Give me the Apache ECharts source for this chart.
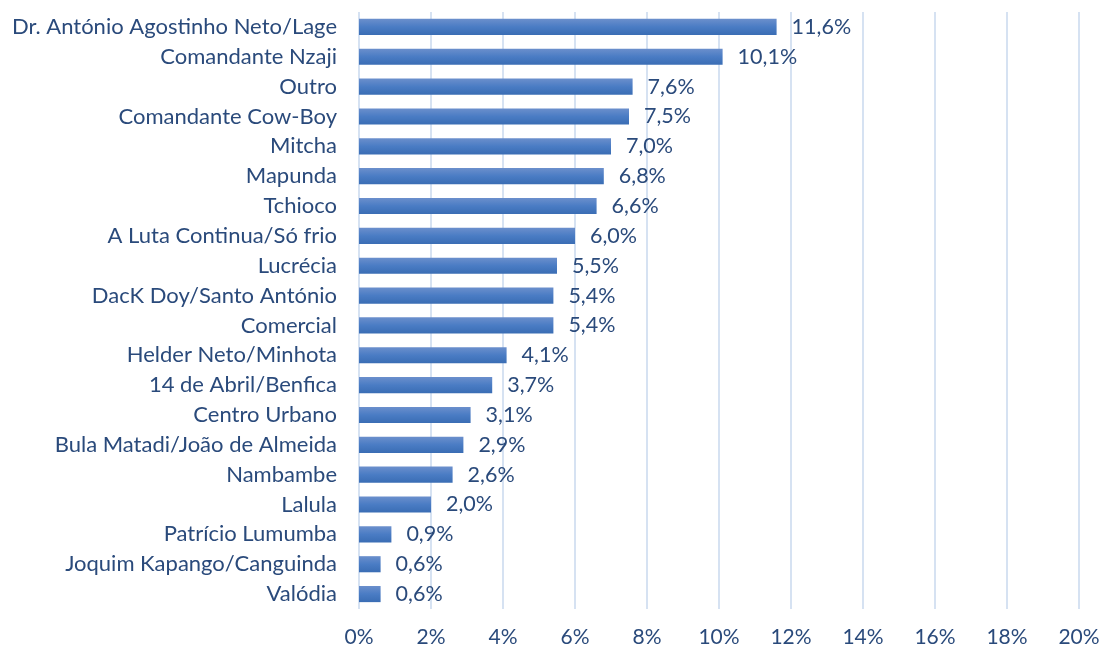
<!DOCTYPE html>
<html><head><meta charset="utf-8">
<script src="https://cdn.jsdelivr.net/npm/echarts@6/dist/echarts.min.js"></script>
<style>html,body{margin:0;padding:0;background:#fff}#c{width:1103px;height:651px}</style>
</head><body><div id="c"></div>
<script>
const categories = ["Dr. António Agostinho Neto/Lage","Comandante Nzaji","Outro","Comandante Cow-Boy","Mitcha","Mapunda","Tchioco","A Luta Continua/Só frio","Lucrécia","DacK Doy/Santo António","Comercial","Helder Neto/Minhota","14 de Abril/Benfica","Centro Urbano","Bula Matadi/João de Almeida","Nambambe","Lalula","Patrício Lumumba","Joquim Kapango/Canguinda","Valódia"];
const values = [11.6,10.1,7.6,7.5,7.0,6.8,6.6,6.0,5.5,5.4,5.4,4.1,3.7,3.1,2.9,2.6,2.0,0.9,0.6,0.6];
const xTicks = [0,2,4,6,8,10,12,14,16,18,20];

const txt = '#2a4a7b';
const font = 'Lato, "Open Sans", sans-serif';
const chart = echarts.init(document.getElementById('c'));
chart.setOption({
  animation:false,
  grid:{left:359,right:24,top:12,bottom:42,containLabel:false},
  xAxis:{type:'value',min:xTicks[0],max:xTicks[xTicks.length-1],interval:2,
    axisLine:{show:false},axisTick:{show:false},
    splitLine:{lineStyle:{color:'#d6e2f2',width:2}},
    axisLabel:{formatter:v=>v+'%',color:txt,fontSize:21,fontFamily:font,margin:18}},
  yAxis:{type:'category',data:categories.slice().reverse(),
    axisLine:{show:false},axisTick:{show:false},
    axisLabel:{color:txt,fontSize:22,fontFamily:font,margin:22}},
  series:[{type:'bar',data:values.slice().reverse(),barCategoryGap:'46%',
    itemStyle:{color:new echarts.graphic.LinearGradient(0,0,0,1,[{offset:0,color:'#6b8fcc'},{offset:0.5,color:'#4a7cc4'},{offset:1,color:'#3a6db4'}])},
    label:{show:true,position:'right',distance:15,color:txt,fontSize:21.5,fontFamily:font,
      formatter:p=>p.value.toFixed(1).replace('.',',')+'%'}}]
});
</script></body></html>
